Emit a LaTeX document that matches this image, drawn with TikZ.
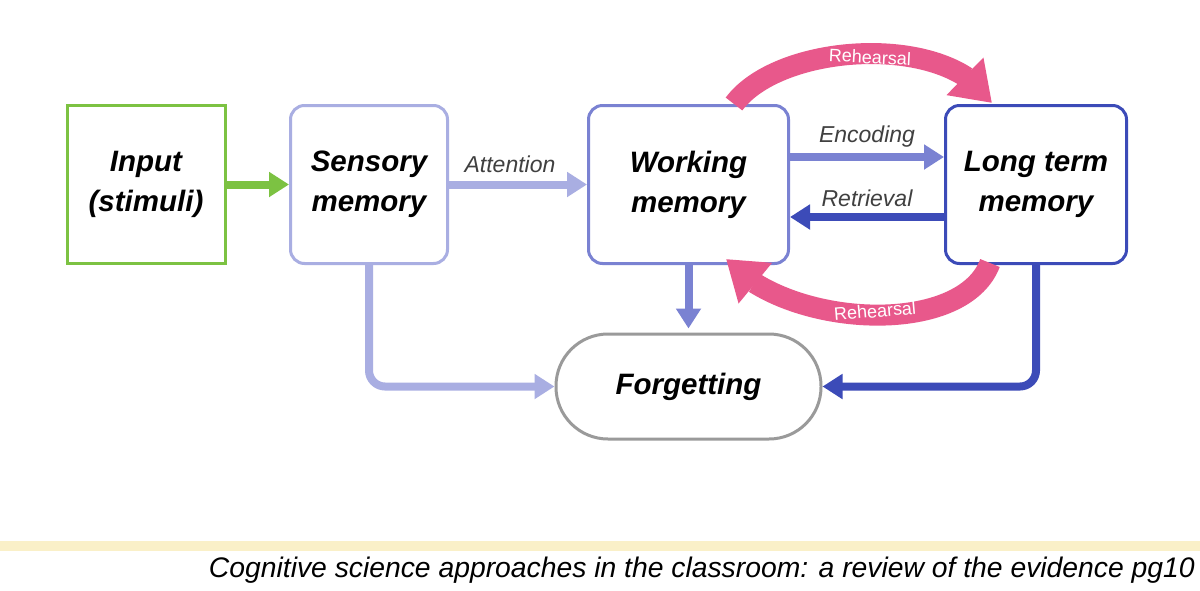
\documentclass[tikz,border=0pt]{standalone}
\usepackage{fontspec}
\setmainfont{Liberation Sans}
\usetikzlibrary{arrows.meta,calc,bending}
\definecolor{cgreen}{HTML}{7CC242}
\definecolor{clav}{HTML}{A9AEE2}
\definecolor{cwm}{HTML}{7A82D2}
\definecolor{cltm}{HTML}{3C4BB8}
\definecolor{cgray}{HTML}{9A9A9A}
\definecolor{cpink}{HTML}{E8588B}
\definecolor{cband}{HTML}{FAF0C8}
\begin{document}
\begin{tikzpicture}[x=1pt,y=-1pt,
  boxtext/.style={font=\fontsize{29.5}{40}\selectfont\bfseries\itshape,align=center},
  memb/.style={boxtext,draw,line width=3pt,rounded corners=14pt,minimum height=158pt,inner sep=0pt},
  flow/.style={line width=8pt,-{Triangle[length=20pt,width=24pt]}},
  lbl/.style={font=\fontsize{23}{26}\selectfont\itshape,text=black!75,inner sep=0pt},
  rh/.style={line width=21pt,cpink,-{Triangle[length=38pt,width=50pt,flex]}},
  rhl/.style={font=\fontsize{18}{20}\selectfont,text=white,inner sep=0pt}]
\useasboundingbox (0,0) rectangle (1200,590);
\fill[white] (0,0) rectangle (1200,590);
% nodes
\node[boxtext,draw=cgreen,line width=3pt,minimum width=158pt,minimum height=158pt,inner sep=0pt] (in) at (146,184.5) {Input\\(stimuli)};
\node[memb,draw=clav,minimum width=157pt] (sm) at (369,184.5) {Sensory\\memory};
\node[memb,draw=cwm,minimum width=200pt] (wm) at (688.5,184.5) {Working\\memory};
\node[memb,draw=cltm,minimum width=181pt] (ltm) at (1036,184.5) {Long term\\memory};
\node[boxtext,draw=cgray,line width=3pt,rounded corners=52pt,minimum width=265pt,minimum height=105pt] (fg) at (688.5,386.5) {Forgetting};
% straight flows
\draw[flow,cgreen] (in.east) -- (sm.west);
\draw[flow,clav] (sm.east) -- (wm.west) node[lbl,midway,above=8pt,xshift=-8pt] (att) {Attention};
\draw[flow,cwm] ([yshift=27.5pt]wm.east) -- ([yshift=27.5pt]ltm.west) node[lbl,midway,above=6pt] (enc) {Encoding};
\draw[flow,cltm] ([yshift=-32.5pt]ltm.west) -- ([yshift=-32.5pt]wm.west -| wm.east) node[lbl,midway,above=6pt] (ret) {Retrieval};
\draw[flow,cwm] (wm.south) -- ([yshift=4pt]fg.north);
\draw[flow,clav,rounded corners=16pt] (sm.south) |- (fg.west);
\draw[flow,cltm,rounded corners=16pt] (ltm.south) |- (fg.east);
% rehearsal arcs
\coordinate (t1) at ($(wm.north west)+(147,0)$);
\coordinate (t2) at ($(ltm.north west)+(48,-1)$);
\draw[rh] (t1) .. controls (780,42) and (950,32) .. (t2);
\node[rhl,rotate=-3] (rt) at (870,57) {Rehearsal};
\coordinate (b1) at ($(ltm.south west)+(46,-2)$);
\coordinate (b2) at ($(wm.south west)+(139,-6)$);
\draw[rh] (b1) .. controls (962,338) and (785,328) .. (b2);
\node[rhl,rotate=5] (rb) at (875,311) {Rehearsal};
% caption
\fill[cband] (0,541) rectangle (1200,551);
\node[anchor=base east,inner sep=0pt,font=\fontsize{28.3}{31}\selectfont\itshape] (cap) at (1195,577) {Cognitive science approaches in the classroom: a review of the evidence pg10};
\end{tikzpicture}
\end{document}
